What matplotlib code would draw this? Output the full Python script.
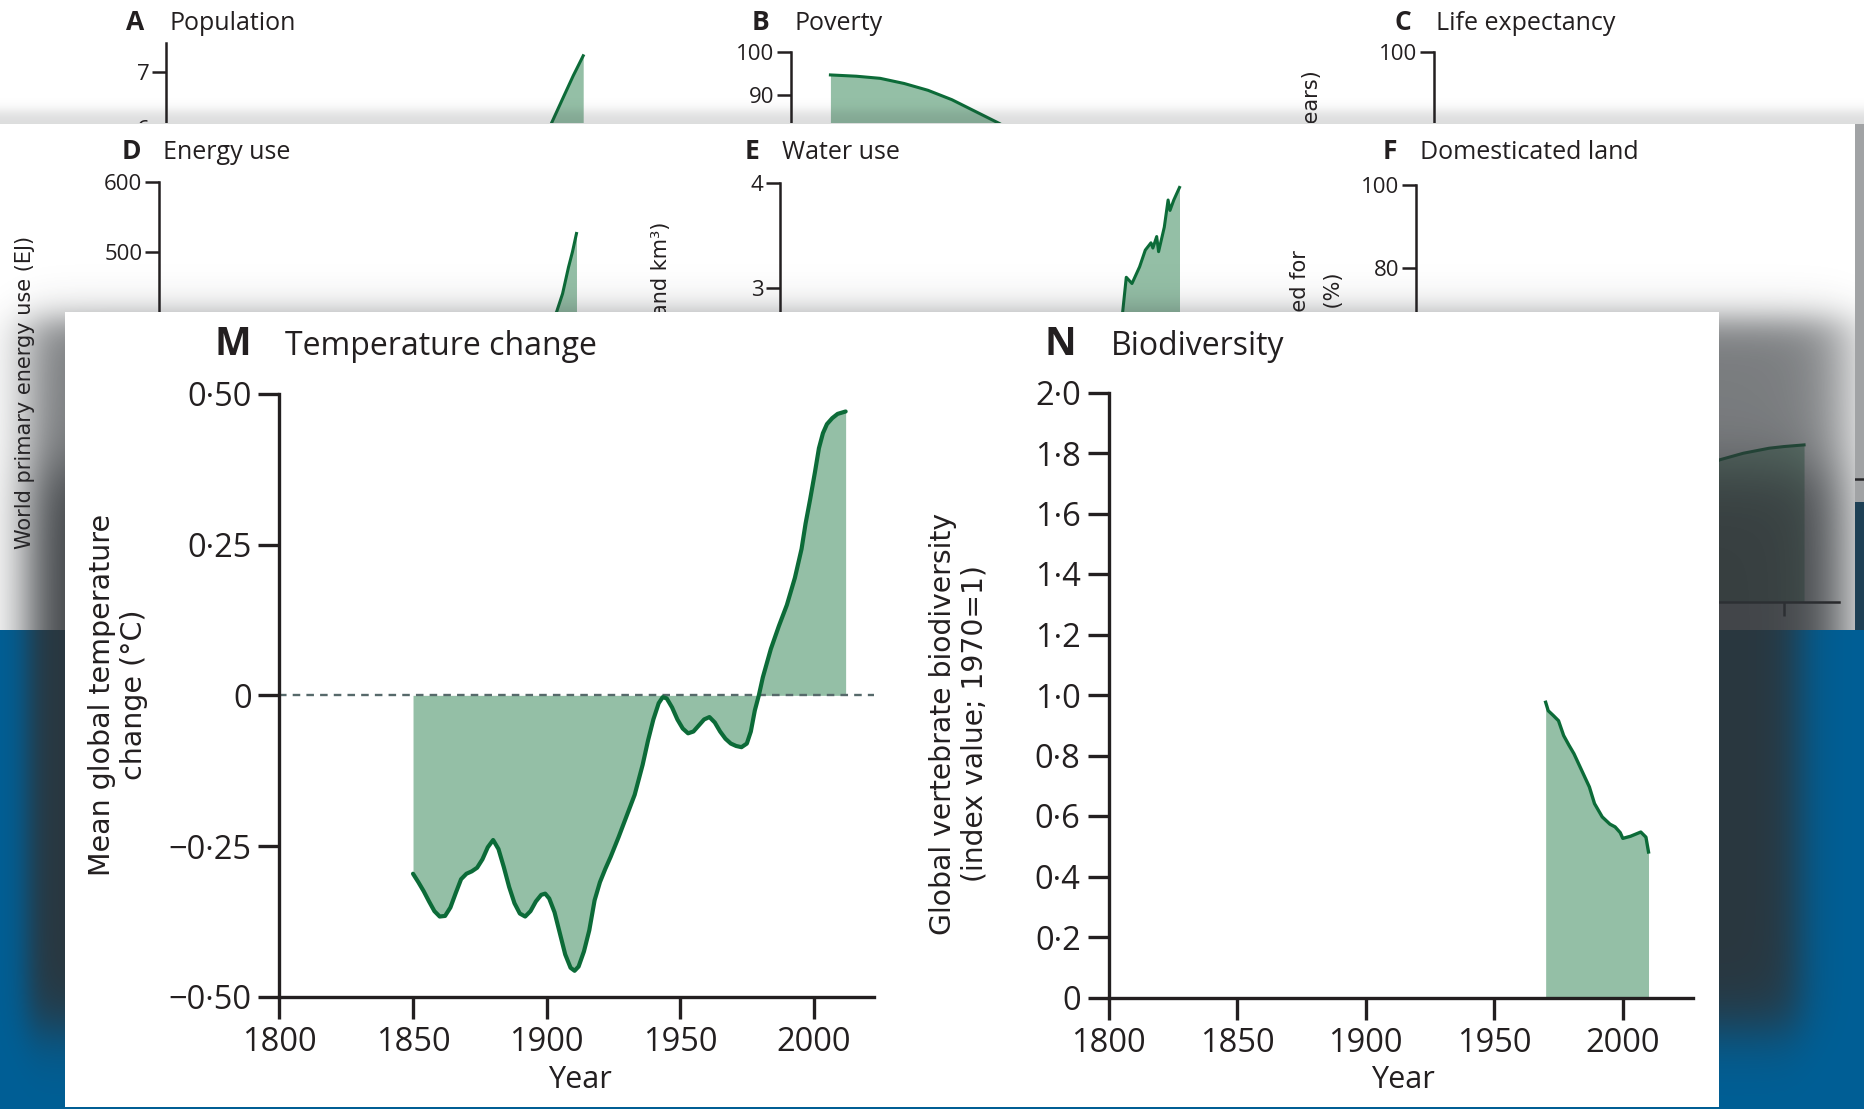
import numpy as np
import matplotlib
matplotlib.use("Agg")
import matplotlib.pyplot as plt
import logging
logging.getLogger('matplotlib.font_manager').setLevel(logging.ERROR)

W, H = 1865, 1109
DPI = 100

# ---------------- data ----------------
temp_years = [1850, 1852, 1854, 1856, 1858, 1860, 1862, 1864, 1866, 1868, 1870, 1872,
              1874, 1876, 1878, 1880, 1882, 1884, 1886, 1888, 1890, 1892, 1894, 1896,
              1898, 1899.5, 1901, 1903, 1905, 1907, 1909, 1910.5, 1912, 1914, 1916, 1918,
              1920, 1922, 1924, 1927, 1930, 1933, 1936, 1938, 1940, 1942, 1943.5, 1945,
              1947, 1949, 1951, 1953, 1955, 1957, 1959, 1961, 1963, 1965, 1967, 1969,
              1971, 1973, 1975, 1976.5, 1978, 1979.5, 1981, 1984, 1987, 1990, 1993,
              1995.5, 1997, 1998.7, 2000.5, 2002, 2003.5, 2005, 2007, 2009, 2012]
temp_values = [-0.296, -0.31, -0.325, -0.342, -0.358, -0.367, -0.366, -0.352, -0.328,
               -0.305, -0.296, -0.292, -0.286, -0.272, -0.252, -0.24, -0.255, -0.285,
               -0.318, -0.345, -0.362, -0.367, -0.358, -0.342, -0.331, -0.329, -0.337,
               -0.36, -0.395, -0.43, -0.452, -0.457, -0.45, -0.425, -0.39, -0.34,
               -0.31, -0.288, -0.268, -0.235, -0.20, -0.165, -0.115, -0.075, -0.04,
               -0.013, -0.003, -0.005, -0.02, -0.04, -0.055, -0.063, -0.06, -0.05,
               -0.04, -0.036, -0.045, -0.06, -0.072, -0.08, -0.084, -0.086, -0.08,
               -0.06, -0.025, 0.0, 0.03, 0.077, 0.115, 0.15, 0.195, 0.243, 0.285, 0.325,
               0.37, 0.41, 0.435, 0.45, 0.46, 0.467, 0.471]

bio_years = [1970, 1971, 1973, 1975, 1977, 1979, 1981, 1984, 1987, 1989, 1992, 1995,
             1997, 1999, 2000, 2003, 2007, 2009, 2010]
bio_values = [0.976, 0.948, 0.932, 0.915, 0.866, 0.835, 0.806, 0.751, 0.696, 0.641,
              0.597, 0.573, 0.564, 0.545, 0.526, 0.533, 0.547, 0.53, 0.481]

pop_years = [1800, 1850, 1900, 1927, 1950, 1960, 1974, 1987, 1994, 2000, 2005, 2010]
pop_values = [0.98, 1.26, 1.65, 2.0, 2.52, 3.0, 4.0, 5.0, 6.09, 6.55, 6.93, 7.28]

poverty_years = [1820, 1833, 1845, 1857, 1869, 1881, 1893, 1905, 1930, 1950, 1970, 1990, 2010]
poverty_values = [94.7, 94.4, 93.9, 92.7, 91.1, 88.9, 86.1, 83.3, 76, 72, 60, 44, 20]

life_years = [1800, 1850, 1900, 1950, 1970, 1990, 2010]
life_values = [29, 29.5, 32, 46, 58, 65, 70]

energy_years = [1800, 1850, 1900, 1950, 1970, 1990, 2000, 2003, 2006, 2008, 2010]
energy_values = [20, 25, 45, 100, 230, 360, 414, 440, 478, 500, 526]

water_years = [1900, 1950, 1980, 1982, 1985, 1989, 1992, 1995, 1996, 1998, 1999, 2002,
               2004, 2005, 2007, 2010]
water_values = [0.6, 1.4, 2.75, 3.1, 3.04, 3.2, 3.36, 3.43, 3.38, 3.49, 3.345, 3.58,
                3.84, 3.74, 3.84, 3.96]

land_years = [1800, 1850, 1900, 1950, 1965, 1978, 1992, 2000, 2011]
land_values = [8, 12, 19, 29, 34.0, 35.6, 36.8, 37.2, 37.6]

year_ticks = [1800, 1850, 1900, 1950, 2000]
year_ticklabels = ['1800', '1850', '1900', '1950', '2000']
temp_yticks = [-0.5, -0.25, 0, 0.25, 0.5]
temp_yticklabels = ['\u22120\u00b750', '\u22120\u00b725', '0', '0\u00b725', '0\u00b750']
bio_yticks = [0, 0.2, 0.4, 0.6, 0.8, 1.0, 1.2, 1.4, 1.6, 1.8, 2.0]
bio_yticklabels = ['0', '0\u00b72', '0\u00b74', '0\u00b76', '0\u00b78', '1\u00b70',
                   '1\u00b72', '1\u00b74', '1\u00b76', '1\u00b78', '2\u00b70']

# ---------------- style ----------------
LINE = '#0c6b38'
FILL = '#94bfa6'
TXT = '#231f20'
SANS = ['Open Sans', 'Lato', 'DejaVu Sans']
LAB = ['DejaVu Sans']

fig = plt.figure(figsize=(W / DPI, H / DPI), dpi=DPI)


def px_axes(l, t, r, b, z):
    return fig.add_axes([l / W, 1 - b / H, (r - l) / W, (b - t) / H], zorder=z)


def S(z):
    return 1.0 / (1.0 + np.exp(-1.7 * z))


def full_axes(z):
    ax = px_axes(0, 0, W, H, z)
    ax.set_xlim(0, W)
    ax.set_ylim(H, 0)
    ax.axis('off')
    return ax


def card(l, t, r, b, z):
    ax = px_axes(l, t, r, b, z)
    ax.set_xlim(l, r)
    ax.set_ylim(b, t)
    ax.set_facecolor('white')
    for s in ax.spines.values():
        s.set_visible(False)
    ax.set_xticks([])
    ax.set_yticks([])
    return ax


yy, xx = np.mgrid[0:H, 0:W] + 0.5

# ---------------- background ----------------
ax_bg = full_axes(0)
blue = np.array([0, 95, 150], float)
dark = np.array([42, 55, 63], float)
w = S((xx - 28) / 14) * S((1800 - xx) / 20) * S((1030 - yy) / 30)
bg = blue[None, None, :] + (dark - blue)[None, None, :] * w[..., None]
strip = (xx >= 1855) & (yy >= 502) & (yy < 630)
bg[strip] = [30, 64, 85]
ax_bg.imshow(bg / 255.0, extent=(0, W, H, 0), aspect='auto', interpolation='nearest')


def style_panel(ax, lw, tlen, tw, lsize, pad, xlabels=True):
    ax.set_facecolor('none')
    ax.spines['top'].set_visible(False)
    ax.spines['right'].set_visible(False)
    for k in ('left', 'bottom'):
        ax.spines[k].set_linewidth(lw)
        ax.spines[k].set_color(TXT)
    ax.tick_params(direction='out', length=tlen, width=tw, colors=TXT,
                   labelsize=lsize, pad=pad)
    if not xlabels:
        ax.tick_params(axis='x', labelbottom=False)
    for lab in ax.get_yticklabels() + ax.get_xticklabels():
        lab.set_fontfamily(SANS)


def small_panel(l, t, r, b, z, xlim, ylim, yticks, years, vals, lw_line=2.2):
    ax = px_axes(l, t, r, b, z)
    ax.fill_between(years, vals, 0, color=FILL, lw=0)
    ax.plot(years, vals, color=LINE, lw=lw_line, solid_joinstyle='round')
    ax.set_xlim(*xlim)
    ax.set_ylim(*ylim)
    ax.set_xticks(year_ticks)
    ax.set_yticks(yticks)
    ax.set_yticklabels([str(v) for v in yticks])
    style_panel(ax, 1.8, 10, 1.8, 16, 2, xlabels=False)
    return ax


# ---------------- card 1: A, B, C ----------------
c1 = card(0, 0, W, 502, 1)
for x, s, bold in [(125.7, 'A', True), (169, 'Population', False),
                   (752, 'B', True), (794.6, 'Poverty', False),
                   (1395, 'C', True), (1435.7, 'Life expectancy', False)]:
    c1.text(x, 30.5, s, ha='left', va='baseline', color=TXT,
            fontsize=19 if bold else 18, fontweight='bold' if bold else 'normal',
            family=SANS)
c1.text(1311.6, 70, 'Age (years)', rotation=90, ha='center', va='top',
        fontsize=15, color=TXT, family=LAB)

small_panel(166, 43.3, 613, 469, 1.5, (1800, 2025), (0, 7.5), [6, 7],
            pop_years, pop_values)
small_panel(790.6, 52.3, 1238.6, 479.3, 1.5, (1800, 2025), (0, 100), [90, 100],
            poverty_years, poverty_values)
small_panel(1434, 51.7, 1882, 478.7, 1.5, (1800, 2025), (0, 100), [100],
            life_years, life_values)

# ---------------- card 2: D, E, F ----------------
c2 = card(0, 123.5, 1855, 630, 3)
for x, s, bold in [(121.6, 'D', True), (163, 'Energy use', False),
                   (744.6, 'E', True), (782, 'Water use', False),
                   (1383, 'F', True), (1420, 'Domesticated land', False)]:
    c2.text(x, 159.3, s, ha='left', va='baseline', color=TXT,
            fontsize=19 if bold else 18, fontweight='bold' if bold else 'normal',
            family=SANS)
c2.text(25, 392, 'World primary energy use (EJ)', rotation=90, ha='center', va='center',
        fontsize=15, color=TXT, family=LAB)
c2.text(661, 221.7, 'Global water use (thousand km\u00b3)', rotation=90, ha='center',
        va='top', fontsize=15, color=TXT, family=LAB)
c2.text(1300, 250, 'Land used for', rotation=90, ha='center', va='top',
        fontsize=15, color=TXT, family=LAB)
c2.text(1334.5, 273, 'farming (%)', rotation=90, ha='center', va='top',
        fontsize=15, color=TXT, family=LAB)

small_panel(159, 181.7, 606.3, 601.7, 3.5, (1800, 2025), (0, 600), [500, 600],
            energy_years, energy_values)
small_panel(780.4, 183.3, 1208, 600.9, 3.5, (1800, 2025), (0, 4), [3, 4],
            water_years, water_values)
small_panel(1416, 185, 1839, 601.5, 3.5, (1800, 2030), (0, 100), [80, 100],
            land_years, land_values)

# ---------------- shadow overlay ----------------
ax_sh = full_axes(5)
alpha = np.zeros((H, W))
top = yy < 124
alpha[top] = (0.17 * S((yy - 111) / 6))[top]
reg2 = (yy >= 124) & (yy < 630) & (xx < 1855)
A = 0.64 + 0.27 * S((yy - 470) / 30)
sh2 = A * S((yy - 318) / 18) * S((xx - 28) / 24) * S((1845 - xx) / 30)
alpha[reg2] = sh2[reg2]
reg_r = (xx >= 1855) & (yy >= 124) & (yy < 502)
alpha[reg_r] = 0.45
rgba = np.zeros((H, W, 4))
rgba[..., 0] = 46 / 255
rgba[..., 1] = 50 / 255
rgba[..., 2] = 54 / 255
rgba[..., 3] = np.clip(alpha, 0, 1)
ax_sh.imshow(rgba, extent=(0, W, H, 0), aspect='auto', interpolation='nearest')

# ---------------- card 3: M, N ----------------
c3 = card(65, 311.5, 1719.5, 1106.5, 6)
c3.text(214, 355, 'M', ha='left', va='baseline', fontsize=28, fontweight='bold',
        color=TXT, family=SANS)
c3.text(285, 355, 'Temperature change', ha='left', va='baseline', fontsize=23,
        color=TXT, family=SANS)
c3.text(1045, 355, 'N', ha='left', va='baseline', fontsize=28, fontweight='bold',
        color=TXT, family=SANS)
c3.text(1111, 355, 'Biodiversity', ha='left', va='baseline', fontsize=23,
        color=TXT, family=SANS)
c3.text(118, 695, 'Mean global temperature\nchange (\u00b0C)', rotation=90,
        ha='center', va='center', fontsize=20.5, color=TXT, family=LAB,
        multialignment='center', linespacing=1.15)
c3.text(958.5, 724, 'Global vertebrate biodiversity\n(index value; 1970=1)', rotation=90,
        ha='center', va='center', fontsize=20.3, color=TXT, family=LAB,
        multialignment='center', linespacing=1.15)
c3.text(580, 1088, 'Year', ha='center', va='baseline', fontsize=22, color=TXT, family=SANS)
c3.text(1403, 1088, 'Year', ha='center', va='baseline', fontsize=22, color=TXT, family=SANS)

axM = px_axes(279.5, 394, 874.2, 996.7, 6.5)
axM.fill_between(temp_years, temp_values, 0, color=FILL, lw=0, zorder=1)
axM.axhline(0, color='#56696a', lw=1.7, ls=(0, (3.2, 2.6)), zorder=2)
axM.plot(temp_years, temp_values, color=LINE, lw=3, solid_joinstyle='round',
         solid_capstyle='round', zorder=3)
axM.set_xlim(1800, 2022.7)
axM.set_ylim(-0.5, 0.5)
axM.set_xticks(year_ticks)
axM.set_xticklabels(year_ticklabels)
axM.set_yticks(temp_yticks)
axM.set_yticklabels(temp_yticklabels)
style_panel(axM, 2.4, 15, 2.4, 23.5, 5)
axM.tick_params(axis='x', length=16)

axN = px_axes(1108.5, 392.5, 1693, 997.5, 6.5)
axN.fill_between(bio_years, bio_values, 0, color=FILL, lw=0, zorder=1)
axN.plot(bio_years, bio_values, color=LINE, lw=2.4, solid_joinstyle='round', zorder=3)
axN.set_xlim(1800, 2027.3)
axN.set_ylim(0, 2)
axN.set_xticks(year_ticks)
axN.set_xticklabels(year_ticklabels)
axN.set_yticks(bio_yticks)
axN.set_yticklabels(bio_yticklabels)
style_panel(axN, 2.4, 15, 2.4, 23.5, 5)
axN.tick_params(axis='x', length=16)

fig.savefig('out.png', dpi=DPI)
